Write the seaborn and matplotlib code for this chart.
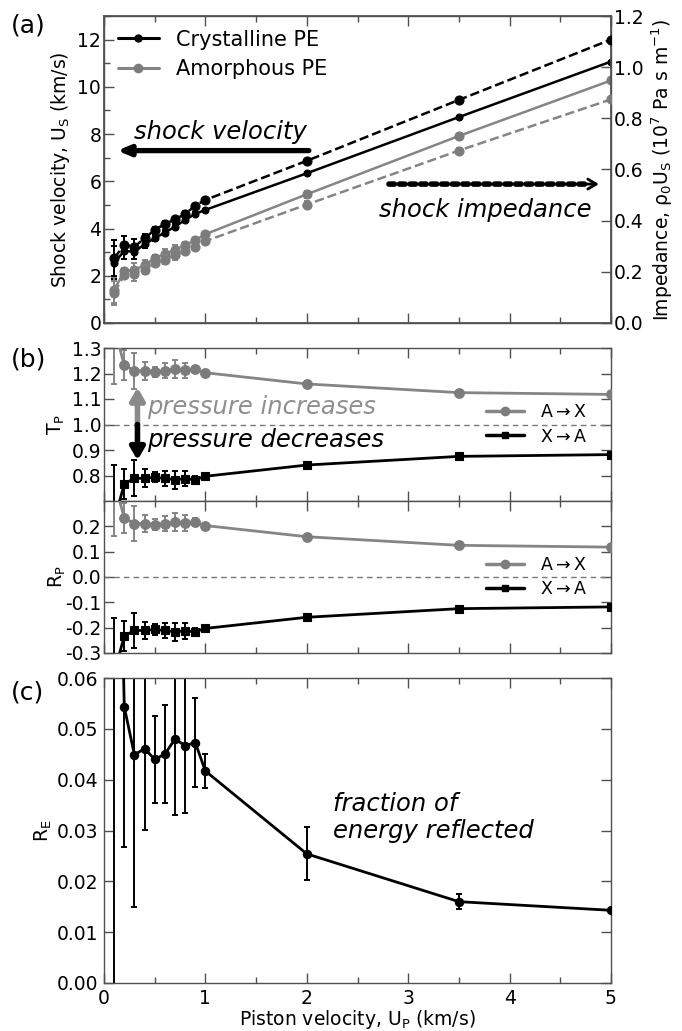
import numpy as np
import pandas as pd
import matplotlib
matplotlib.use("Agg")
import matplotlib.pyplot as plt
from matplotlib.lines import Line2D
from matplotlib.ticker import MultipleLocator, FormatStrFormatter
import seaborn as sns

sns.set_theme(style="ticks")
plt.rcParams['font.family'] = ['DejaVu Sans']
plt.rcParams['mathtext.default'] = 'regular'
plt.rcParams['text.color'] = 'black'
plt.rcParams['axes.labelcolor'] = 'black'

# Piston velocities (km/s)
up = [0.1, 0.2, 0.3, 0.4, 0.5, 0.6, 0.7, 0.8, 0.9, 1.0, 2.0, 3.5, 5.0]

# Shock velocity (km/s)
us_cryst = [2.55, 3.05, 3.02, 3.33, 3.59, 3.83, 4.08, 4.36, 4.62, 4.79, 6.34, 8.72, 11.07]
us_cryst_err = [0.7, 0.35, 0.3, 0.15, 0.12, 0.1, 0.1, 0.1, 0.08, 0.05, 0.05, 0.04, 0.04]
us_amorph = [1.40, 2.20, 2.25, 2.45, 2.75, 2.92, 3.10, 3.30, 3.50, 3.76, 5.45, 7.92, 10.27]
us_amorph_err = [0.55, 0.15, 0.3, 0.2, 0.15, 0.2, 0.2, 0.15, 0.1, 0.05, 0.15, 0.1, 0.05]

# Shock impedance (10^7 Pa s/m)
z_cryst = [0.253, 0.305, 0.298, 0.331, 0.364, 0.387, 0.405, 0.426, 0.459, 0.481, 0.634, 0.872, 1.108]
z_cryst_err = [0.07, 0.035, 0.03, 0.015, 0.012, 0.01, 0.01, 0.01, 0.008, 0.005, 0.005, 0.004, 0.004]
z_amorph = [0.119, 0.187, 0.191, 0.209, 0.234, 0.248, 0.264, 0.281, 0.298, 0.320, 0.463, 0.674, 0.874]
z_amorph_err = [0.047, 0.013, 0.026, 0.017, 0.013, 0.017, 0.017, 0.013, 0.009, 0.004, 0.013, 0.009, 0.004]

# Pressure transmission coefficients
t_ax = [1.38, 1.233, 1.211, 1.211, 1.207, 1.211, 1.216, 1.213, 1.216, 1.203, 1.159, 1.125, 1.118]
t_xa = [0.62, 0.767, 0.789, 0.789, 0.793, 0.789, 0.784, 0.787, 0.784, 0.797, 0.841, 0.875, 0.882]
# Pressure reflection coefficients
r_ax = [0.38, 0.233, 0.211, 0.211, 0.207, 0.211, 0.216, 0.213, 0.216, 0.203, 0.159, 0.125, 0.118]
r_xa = [-0.38, -0.233, -0.211, -0.211, -0.207, -0.211, -0.216, -0.213, -0.216, -0.203, -0.159, -0.125, -0.118]
p_err = [0.22, 0.06, 0.07, 0.035, 0.02, 0.03, 0.035, 0.03, 0.015, 0.006, 0.012, 0.005, 0.004]

# Energy reflection coefficient
r_e = [0.144, 0.0543, 0.0449, 0.0461, 0.0440, 0.0450, 0.0480, 0.0467, 0.0473, 0.0417, 0.0254, 0.0160, 0.0143]
r_e_err = [0.15, 0.0275, 0.030, 0.016, 0.0086, 0.0096, 0.015, 0.0133, 0.0087, 0.0034, 0.0052, 0.0015, 0.0004]

BLACK = "#000000"
GRAY = "#858585"
GRAY_MK = "#7c7c7c"
SPINE = "#505050"
TICK_FS = 13.5
LABEL_FS = 13.5

fig = plt.figure(figsize=(6.82, 10.31), dpi=100)
W, H = 682, 1031


def box(l, t, r, b):
    return [l / W, 1 - b / H, (r - l) / W, (b - t) / H]


ax_a = fig.add_axes(box(104, 16, 611, 323))
ax_z = ax_a.twinx()
ax_t = fig.add_axes(box(104, 348, 611, 501))
ax_r = fig.add_axes(box(104, 501, 611, 653))
ax_e = fig.add_axes(box(104, 678, 611, 983))


def style_axis(ax, right=True):
    for s in ax.spines.values():
        s.set_color(SPINE)
        s.set_linewidth(1.0)
    ax.tick_params(which="both", direction="in", color=SPINE, top=True,
                   right=right, labelsize=TICK_FS, labelcolor="black", pad=2)
    ax.tick_params(which="major", length=7, width=1)
    ax.tick_params(which="minor", length=4, width=1)
    ax.set_xlim(0, 5)
    ax.xaxis.set_major_locator(MultipleLocator(1))
    ax.xaxis.set_minor_locator(MultipleLocator(0.5))


def series(ax, y, err, color, mcolor, ls, marker, ms, lw=1.8, ecolor=None):
    df = pd.DataFrame({"up": up, "val": y, "err": err})
    ax.errorbar(df["up"], df["val"], yerr=df["err"], fmt="none",
                ecolor=ecolor or color, elinewidth=1.4, capsize=2.5,
                capthick=1.4, zorder=2)
    sns.lineplot(data=df, x="up", y="val", ax=ax, color=color, lw=lw,
                 linestyle=ls, marker=marker, markersize=ms,
                 markerfacecolor=mcolor, markeredgecolor=mcolor,
                 markeredgewidth=0.8, sort=False, zorder=3)


# ---------------- (a) shock velocity / impedance ----------------
style_axis(ax_a, right=False)
ax_a.set_ylim(0, 13)
ax_a.yaxis.set_major_locator(MultipleLocator(2))
ax_a.yaxis.set_minor_locator(MultipleLocator(1))
ax_a.tick_params(labelbottom=False)
series(ax_a, us_cryst, us_cryst_err, BLACK, BLACK, "-", "o", 5)
series(ax_a, us_amorph, us_amorph_err, GRAY, GRAY_MK, "-", "o", 6.5)
ax_a.set_xlabel("")
ax_a.set_ylabel("Shock velocity, U$_\\mathrm{S}$ (km/s)", fontsize=LABEL_FS, labelpad=4)

ax_z.set_ylim(0, 1.2)
for s in ax_z.spines.values():
    s.set_color(SPINE)
ax_z.tick_params(which="both", direction="in", color=SPINE, labelsize=TICK_FS,
                 labelcolor="black", pad=2)
ax_z.tick_params(which="major", length=7, width=1)
ax_z.yaxis.set_major_locator(MultipleLocator(0.2))
ax_z.yaxis.set_major_formatter(FormatStrFormatter("%.1f"))
series(ax_z, z_cryst, z_cryst_err, BLACK, BLACK, "--", "o", 6.5)
series(ax_z, z_amorph, z_amorph_err, GRAY, GRAY_MK, "--", "o", 6.5)
ax_z.set_xlim(0, 5)
ax_z.set_xlabel("")
ax_z.set_ylabel("Impedance, ρ$_0$U$_\\mathrm{S}$ (10$^7$ Pa s m$^{-1}$)",
                fontsize=LABEL_FS, labelpad=4)

handles = [
    Line2D([], [], color=BLACK, lw=2.2, marker="o", ms=5, mfc=BLACK, mec=BLACK),
    Line2D([], [], color=GRAY, lw=2.2, marker="o", ms=6, mfc=GRAY_MK, mec=GRAY_MK),
]
ax_z.legend(handles, ["Crystalline PE", "Amorphous PE"], loc="upper left",
            frameon=False, fontsize=15, handlelength=2.0, borderaxespad=0.25,
            labelspacing=0.45, handletextpad=0.8)

ax_a.text(1.15, 8.1, "shock velocity", style="italic", fontsize=17.5,
          ha="center", va="center", color=BLACK)
ax_a.annotate("", xy=(0.13, 7.3), xytext=(2.02, 7.3),
              arrowprops=dict(arrowstyle="-|>,head_width=0.25,head_length=0.6",
                              lw=3.8, color=BLACK, shrinkA=0, shrinkB=0))
ax_z.text(3.76, 0.44, "shock impedance", style="italic", fontsize=17.5,
          ha="center", va="center", color=BLACK)
ax_z.annotate("", xy=(4.78, 0.543), xytext=(2.81, 0.543),
              arrowprops=dict(arrowstyle="-", lw=4, color=BLACK,
                              linestyle=(0, (1, 0.9)), shrinkA=0, shrinkB=0))
ax_z.annotate("", xy=(4.88, 0.543), xytext=(4.7, 0.543),
              arrowprops=dict(arrowstyle="->,head_width=0.3,head_length=0.5",
                              lw=2.0, color=BLACK, shrinkA=0, shrinkB=0))

# ---------------- (b) pressure coefficients ----------------
for ax in (ax_t, ax_r):
    style_axis(ax)
    ax.tick_params(labelbottom=False)

ax_t.set_ylim(0.7, 1.3)
ax_t.set_yticks([0.8, 0.9, 1.0, 1.1, 1.2, 1.3])
ax_t.yaxis.set_major_formatter(FormatStrFormatter("%.1f"))
ax_t.axhline(1.0, color="#777777", lw=1.0, ls=(0, (4, 3)), zorder=1)
series(ax_t, t_ax, p_err, GRAY, GRAY_MK, "-", "o", 7, lw=2.0)
series(ax_t, t_xa, p_err, BLACK, BLACK, "-", "s", 6, lw=2.0)
ax_t.set_xlabel("")
ax_t.set_ylabel("T$_\\mathrm{P}$", fontsize=LABEL_FS, labelpad=3)

ax_r.set_ylim(-0.3, 0.3)
ax_r.set_yticks([-0.3, -0.2, -0.1, 0.0, 0.1, 0.2])
ax_r.yaxis.set_major_formatter(FormatStrFormatter("%.1f"))
ax_r.axhline(0.0, color="#777777", lw=1.0, ls=(0, (4, 3)), zorder=1)
series(ax_r, r_ax, p_err, GRAY, GRAY_MK, "-", "o", 7, lw=2.0)
series(ax_r, r_xa, p_err, BLACK, BLACK, "-", "s", 6, lw=2.0)
ax_r.set_xlabel("")
ax_r.set_ylabel("R$_\\mathrm{P}$", fontsize=LABEL_FS, labelpad=-2)

leg_handles = [
    Line2D([], [], color=GRAY, lw=2.5, marker="o", ms=6, mfc=GRAY_MK, mec=GRAY_MK),
    Line2D([], [], color=BLACK, lw=2.5, marker="s", ms=5, mfc=BLACK, mec=BLACK),
]
leg_labels = ["A$\\rightarrow$X", "X$\\rightarrow$A"]
for ax in (ax_t, ax_r):
    ax.legend(leg_handles, leg_labels, loc="center right", frameon=False,
              fontsize=12.5, handlelength=2.2, borderaxespad=1.0,
              labelspacing=0.35, handletextpad=0.9)

ax_t.annotate("", xy=(0.33, 1.145), xytext=(0.33, 1.0),
              arrowprops=dict(arrowstyle="-|>,head_width=0.35,head_length=0.6",
                              lw=4, color="#8a8a8a", shrinkA=0, shrinkB=0))
ax_t.annotate("", xy=(0.33, 0.86), xytext=(0.33, 1.0),
              arrowprops=dict(arrowstyle="-|>,head_width=0.35,head_length=0.6",
                              lw=4, color=BLACK, shrinkA=0, shrinkB=0))
ax_t.text(0.42, 1.07, "pressure increases", style="italic", fontsize=17.5,
          color="#8f8f8f", ha="left", va="center")
ax_t.text(0.42, 0.94, "pressure decreases", style="italic", fontsize=17.5,
          color=BLACK, ha="left", va="center")

# ---------------- (c) energy reflection ----------------
style_axis(ax_e)
ax_e.tick_params(axis="y", pad=4)
ax_e.tick_params(axis="x", pad=4)
ax_e.set_ylim(0, 0.06)
ax_e.yaxis.set_major_locator(MultipleLocator(0.01))
ax_e.yaxis.set_major_formatter(FormatStrFormatter("%.2f"))
series(ax_e, r_e, r_e_err, BLACK, BLACK, "-", "o", 6, lw=2.0)
ax_e.set_ylabel("R$_\\mathrm{E}$", fontsize=LABEL_FS, labelpad=2)
ax_e.set_xlabel("Piston velocity, U$_\\mathrm{P}$ (km/s)", fontsize=LABEL_FS, labelpad=0)
ax_e.text(2.26, 0.0325, "fraction of\nenergy reflected", style="italic",
          fontsize=17.5, ha="left", va="center", linespacing=1.15, color=BLACK)

# Panel tags
fig.text(0.016, 0.975, "(a)", fontsize=18, va="center")
fig.text(0.016, 0.651, "(b)", fontsize=18, va="center")
fig.text(0.016, 0.328, "(c)", fontsize=18, va="center")

fig.savefig("out.png", dpi=100)
